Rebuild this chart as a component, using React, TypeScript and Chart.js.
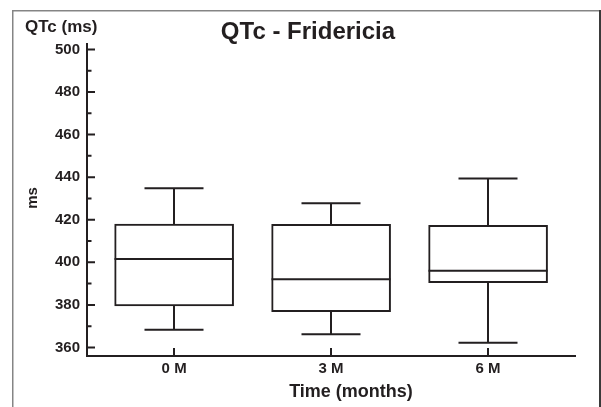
import React, { useEffect, useRef } from "react";
import { Chart, registerables } from "chart.js";

Chart.register(...registerables);

const categories = ["0 M", "3 M", "6 M"];
const categoryPos = [0, 1, 2];
const whiskerLow = [368.3, 366.2, 362.2];
const q1 = [379.5, 376.8, 390.4];
const median = [401.5, 392.0, 396.0];
const q3 = [418.0, 417.8, 417.4];
const whiskerHigh = [434.8, 427.7, 439.4];
const yTickValues = [360, 380, 400, 420, 440, 460, 480, 500];
const yMinorTickValues = [370, 390, 410, 430, 450, 470, 490];

const INK = "#231f20";
const FONT = "'Liberation Sans', Arial, Helvetica, sans-serif";

export default function App() {
  const canvasRef = useRef<HTMLCanvasElement | null>(null);

  useEffect(() => {
    const canvas = canvasRef.current;
    if (!canvas) return;

    const boxHalf = 59.5;
    const capHalf = 29.5;

    const boxPlugin = {
      id: "boxExtras",
      afterDatasetsDraw(chart: any) {
        const ctx = chart.ctx;
        const xs = chart.scales.x;
        const ys = chart.scales.y;
        const area = chart.chartArea;
        ctx.save();
        ctx.strokeStyle = INK;
        ctx.lineWidth = 2;
        ctx.lineCap = "butt";
        categoryPos.forEach((c, i) => {
          const x = Math.round(xs.getPixelForValue(c));
          const yHi = ys.getPixelForValue(whiskerHigh[i]);
          const yQ3 = ys.getPixelForValue(q3[i]);
          const yQ1 = ys.getPixelForValue(q1[i]);
          const yLo = ys.getPixelForValue(whiskerLow[i]);
          const yMed = ys.getPixelForValue(median[i]);
          ctx.beginPath();
          ctx.moveTo(x, yQ3);
          ctx.lineTo(x, yHi);
          ctx.moveTo(x - capHalf, yHi);
          ctx.lineTo(x + capHalf, yHi);
          ctx.moveTo(x, yQ1);
          ctx.lineTo(x, yLo);
          ctx.moveTo(x - capHalf, yLo);
          ctx.lineTo(x + capHalf, yLo);
          ctx.moveTo(x - boxHalf, yMed);
          ctx.lineTo(x + boxHalf, yMed);
          ctx.stroke();
        });
        // axes
        ctx.beginPath();
        ctx.moveTo(area.left, area.top);
        ctx.lineTo(area.left, area.bottom + 1);
        ctx.moveTo(area.left - 1, area.bottom);
        ctx.lineTo(area.right, area.bottom);
        // y major ticks (inside)
        yTickValues.forEach((v) => {
          const y = ys.getPixelForValue(v);
          ctx.moveTo(area.left, y);
          ctx.lineTo(area.left + 8, y);
        });
        yMinorTickValues.forEach((v) => {
          const y = ys.getPixelForValue(v);
          ctx.moveTo(area.left, y);
          ctx.lineTo(area.left + 4.5, y);
        });
        categoryPos.forEach((c) => {
          const x = Math.round(xs.getPixelForValue(c));
          ctx.moveTo(x, area.bottom);
          ctx.lineTo(x, area.bottom - 8);
        });
        ctx.stroke();
        ctx.restore();
      },
      afterDraw(chart: any) {
        const ctx = chart.ctx;
        ctx.save();
        // frame
        ctx.strokeStyle = "#858585";
        ctx.lineWidth = 1.5;
        ctx.beginPath();
        ctx.moveTo(12.75, 420);
        ctx.lineTo(12.75, 10.75);
        ctx.lineTo(600, 10.75);
        ctx.stroke();
        ctx.strokeStyle = "#3a3a3a";
        ctx.lineWidth = 2;
        ctx.beginPath();
        ctx.moveTo(600, 10);
        ctx.lineTo(600, 420);
        ctx.stroke();
        // texts
        ctx.fillStyle = INK;
        ctx.textBaseline = "alphabetic";
        ctx.textAlign = "center";
        ctx.font = `bold 24px ${FONT}`;
        ctx.fillText("QTc - Fridericia", 308, 38.5);
        ctx.textAlign = "left";
        ctx.font = `bold 17px ${FONT}`;
        ctx.fillText("QTc (ms)", 25, 31.5);
        ctx.textAlign = "center";
        ctx.font = `bold 18px ${FONT}`;
        ctx.fillText("Time (months)", 351, 397);
        ctx.save();
        ctx.translate(36.5, 198);
        ctx.rotate(-Math.PI / 2);
        ctx.font = `bold 15px ${FONT}`;
        ctx.textAlign = "center";
        ctx.fillText("ms", 0, 0);
        ctx.restore();
        ctx.restore();
      },
    };

    const chart = new Chart(canvas, {
      type: "bar",
      data: {
        datasets: [
          {
            data: categoryPos.map((c, i) => ({ x: c, y: [q1[i], q3[i]] })) as any,
            backgroundColor: "#ffffff",
            borderColor: INK,
            borderWidth: 2,
            borderSkipped: false,
            barThickness: 119,
          },
        ],
      },
      options: {
        responsive: false,
        animation: false,
        devicePixelRatio: 1,
        layout: { padding: { left: 0, right: 25, top: 43, bottom: 0 } },
        plugins: {
          legend: { display: false },
          title: { display: false },
          tooltip: { enabled: false },
        },
        scales: {
          x: {
            type: "linear",
            min: -0.555,
            max: 2.56,
            offset: false,
            grid: { display: false, drawTicks: false, offset: false },
            border: { display: false },
            afterBuildTicks: (s: any) => {
              s.ticks = categoryPos.map((v) => ({ value: v }));
            },
            afterFit: (s: any) => {
              s.height = 51;
            },
            ticks: {
              autoSkip: false,
              maxRotation: 0,
              padding: 4,
              color: INK,
              font: { family: FONT, size: 15, weight: "bold" },
              callback: (v: any) => {
                const idx = categoryPos.indexOf(Number(v));
                return idx >= 0 ? categories[idx] : "";
              },
            },
          },
          y: {
            type: "linear",
            min: 356,
            max: 503,
            grid: { display: false, drawTicks: false },
            border: { display: false },
            afterBuildTicks: (s: any) => {
              s.ticks = yTickValues.map((v) => ({ value: v }));
            },
            afterFit: (s: any) => {
              s.width = 87;
            },
            ticks: {
              padding: 7,
              color: INK,
              font: { family: FONT, size: 15, weight: "bold" },
              callback: (v: any) => String(v),
            },
          },
        },
      },
      plugins: [boxPlugin],
    });

    return () => {
      chart.destroy();
    };
  }, []);

  return (
    <div
      style={{
        position: "fixed",
        left: 0,
        top: 0,
        width: 601,
        height: 407,
        background: "#ffffff",
      }}
    >
      <canvas
        ref={canvasRef}
        width={601}
        height={407}
        style={{ width: 601, height: 407, display: "block" }}
      />
    </div>
  );
}
